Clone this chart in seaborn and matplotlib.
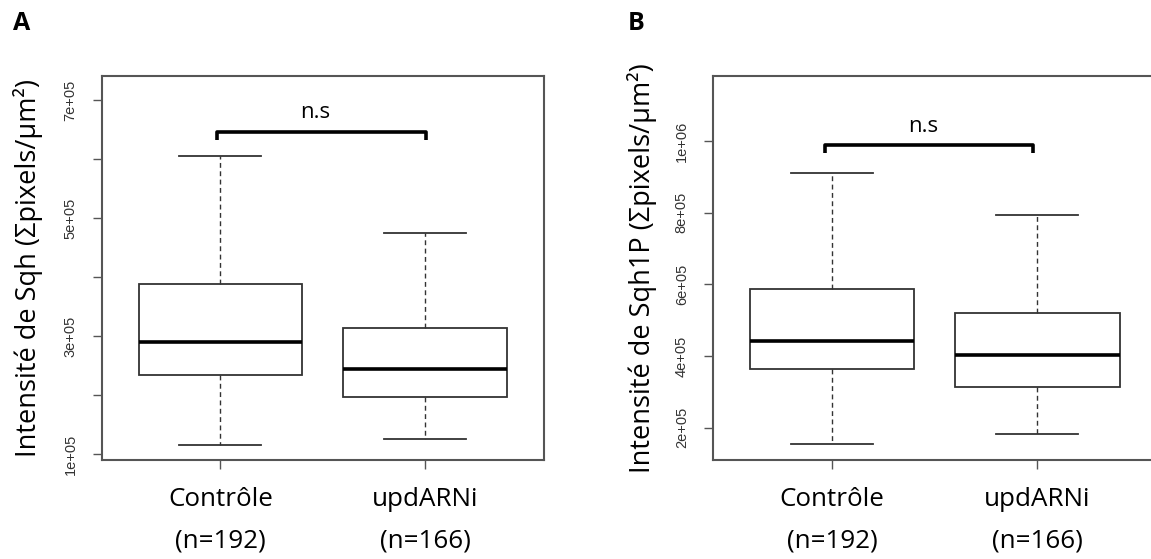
import numpy as np
import pandas as pd
import seaborn as sns
import matplotlib.pyplot as plt

# ---------------- data ----------------
categories = ["Contrôle", "updARNi"]
counts = ["(n=192)", "(n=166)"]

# five-number summaries: min (lower whisker), Q1, median, Q3, max (upper whisker)
sqh_controle = [1.15e5, 2.34e5, 2.90e5, 3.88e5, 6.05e5]
sqh_updarni = [1.26e5, 1.965e5, 2.445e5, 3.134e5, 4.75e5]
sqh1p_controle = [1.536e5, 3.63e5, 4.43e5, 5.87e5, 9.115e5]
sqh1p_updarni = [1.816e5, 3.126e5, 4.03e5, 5.20e5, 7.93e5]

yticks_a = [1e5, 2e5, 3e5, 4e5, 5e5, 6e5, 7e5]
ytick_labels_a = ["1e+05", "", "3e+05", "", "5e+05", "", "7e+05"]
yticks_b = [2e5, 4e5, 6e5, 8e5, 1e6]
ytick_labels_b = ["2e+05", "4e+05", "6e+05", "8e+05", "1e+06"]

ylim_a = (0.903e5, 7.406e5)
ylim_b = (1.098e5, 1.182e6)

ylabel_a = "Intensité de Sqh (Σpixels/µm²)"
ylabel_b = "Intensité de Sqh1P (Σpixels/µm²)"
panel_letters = ["A", "B"]
signif_text = "n.s"
bracket_levels_a = (6.45e5, 6.32e5, 6.78e5)
bracket_levels_b = (9.89e5, 9.66e5, 1.041e6)

# ---------------- figure ----------------
W, H = 1151, 559
fig = plt.figure(figsize=(W / 100, H / 100), dpi=100)
fig.patch.set_facecolor("white")


def axrect(l, r, t, b):
    return [l / W, 1 - b / H, (r - l) / W, (b - t) / H]


axA = fig.add_axes(axrect(101.7, 543.8, 76, 460))
axB = fig.add_axes(axrect(713.1, 1156.5, 76, 460))

MAIN_FONT = ["Open Sans", "DejaVu Sans"]
TICK_FONT = ["Liberation Sans", "DejaVu Sans"]
SPINE = "#555555"


def panel(ax, ctrl, upd, yticks, ylabels, ylim, ylabel, label_x, bracket, bx):
    df = pd.DataFrame({
        "group": np.repeat(categories, [len(ctrl), len(upd)]),
        "value": list(ctrl) + list(upd),
    })
    sns.boxplot(
        data=df, x="group", y="value", ax=ax, order=categories,
        whis=(0, 100), width=0.8, showfliers=False,
        color="white", linecolor="#333333", linewidth=1.3, fill=True,
        medianprops=dict(color="black", linewidth=2.6),
        whiskerprops=dict(linestyle=(0, (3.5, 2.5)), linewidth=1.0, color="#333333"),
        capprops=dict(linewidth=1.3, color="#333333"),
    )
    ax.set_xlim(-0.58, 1.58)
    ax.set_ylim(*ylim)
    ax.set_yticks(yticks)
    ax.set_yticklabels(ylabels, rotation=90, va="center",
                       family=TICK_FONT, fontsize=10.5, color="#333333")
    ax.set_xticks([0, 1])
    ax.set_xticklabels([f"{c}\n{n}" for c, n in zip(categories, counts)],
                       family=MAIN_FONT, fontsize=18.7, linespacing=1.85)
    ax.tick_params(axis="y", length=6.5, width=1.0, color=SPINE, pad=11)
    ax.tick_params(axis="x", length=6.5, width=1.0, color=SPINE, pad=13)
    ax.set_xlabel("")
    ax.set_ylabel(ylabel, family=MAIN_FONT, fontsize=19.5)
    ax.yaxis.label.set_va("center")
    ax.yaxis.set_label_coords(label_x, 0.5)
    for s in ax.spines.values():
        s.set_visible(True)
        s.set_color(SPINE)
        s.set_linewidth(1.5)
    top, bot, ty = bracket
    ax.plot([bx[0], bx[0], bx[1], bx[1]], [bot, top, top, bot], color="black",
            lw=2.6, solid_joinstyle="round", solid_capstyle="butt", clip_on=False)
    ax.text((bx[0] + bx[1]) / 2 - 0.03, ty, signif_text, ha="center", va="center",
            family=MAIN_FONT, fontsize=16)
    ax.set_facecolor("white")


panel(axA, sqh_controle, sqh_updarni, yticks_a, ytick_labels_a, ylim_a, ylabel_a,
      (27.7 - 101.7) / 442.1, bracket_levels_a, (-0.017, 1.004))
panel(axB, sqh1p_controle, sqh1p_updarni, yticks_b, ytick_labels_b, ylim_b, ylabel_b,
      (642 - 713.1) / 443.4, bracket_levels_b, (-0.036, 0.98))

fig.text(21.7 / W, 1 - 24 / H, panel_letters[0], ha="center", va="center",
         family=MAIN_FONT, fontweight="bold", fontsize=18)
fig.text(636 / W, 1 - 24 / H, panel_letters[1], ha="center", va="center",
         family=MAIN_FONT, fontweight="bold", fontsize=18)

fig.savefig("out.png", dpi=100, facecolor="white")
